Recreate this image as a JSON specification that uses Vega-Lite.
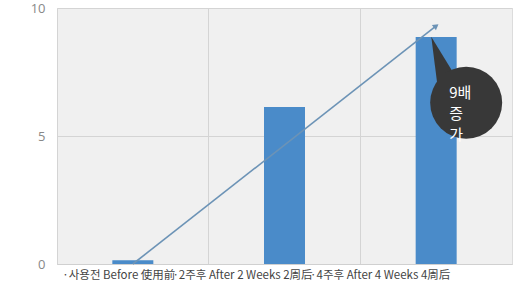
{
  "$schema": "https://vega.github.io/schema/vega-lite/v6.json",
  "autosize": {"type": "none"},
  "width": 455,
  "height": 256,
  "padding": {"left": 57, "top": 8, "right": 2, "bottom": 20},
  "background": "#ffffff",
  "config": {
    "view": {"fill": "#f0f0f0", "stroke": "#dcdcdc", "strokeWidth": 1},
    "font": "Noto Sans CJK KR"
  },
  "datasets": {
    "bars": [
      {"stage": "·사용전 Before 使用前", "value": 0.15},
      {"stage": "·2주후 After 2 Weeks 2周后", "value": 6.13},
      {"stage": "·4주후 After 4 Weeks 4周后", "value": 8.87}
    ],
    "trend": [
      {"stage": "·사용전 Before 使用前", "value": 0},
      {"stage": "·4주후 After 4 Weeks 4周后", "value": 9.3}
    ],
    "head": [
      {"stage": "·4주후 After 4 Weeks 4周后", "value": 9.3}
    ],
    "note": [
      {"stage": "·4주후 After 4 Weeks 4周后", "value": 6.3, "label": "9배\n증\n가"}
    ]
  },
  "encoding": {
    "x": {
      "field": "stage",
      "type": "nominal",
      "sort": null,
      "scale": {
        "domain": ["·사용전 Before 使用前", "·2주후 After 2 Weeks 2周后", "·4주후 After 4 Weeks 4周后"],
        "paddingInner": 0,
        "paddingOuter": 0
      },
      "axis": {
        "title": null,
        "labelAngle": 0,
        "labelFontSize": 11.5,
        "labelColor": "#444444",
        "labelPadding": 5,
        "ticks": false,
        "domain": true,
        "domainColor": "#d0d0d0",
        "grid": true,
        "gridColor": "#d4d4d4",
        "gridWidth": 1,
        "bandPosition": 0,
        "labelOverlap": false,
        "labelOffset": {
          "condition": [
            {"test": "datum.value === '·사용전 Before 使用前'", "value": -14},
            {"test": "datum.value === '·2주후 After 2 Weeks 2周后'", "value": -42}
          ],
          "value": -56
        }
      }
    },
    "y": {
      "field": "value",
      "type": "quantitative",
      "scale": {"domain": [0, 10], "nice": false},
      "axis": {
        "title": null,
        "values": [0, 5, 10],
        "ticks": false,
        "domain": false,
        "labelFontSize": 13,
        "labelColor": "#888888",
        "labelPadding": 12,
        "labelFont": "Open Sans",
        "gridColor": "#d4d4d4",
        "gridWidth": 1
      }
    }
  },
  "layer": [
    {
      "data": {"name": "bars"},
      "mark": {"type": "bar", "width": 41, "color": "#4a8bc9"}
    },
    {
      "data": {"name": "trend"},
      "mark": {"type": "line", "color": "#6c93b6", "strokeWidth": 1.6}
    },
    {
      "data": {"name": "head"},
      "mark": {"type": "point", "shape": "triangle-up", "filled": true, "size": 45, "angle": 52, "color": "#6c93b6", "opacity": 1}
    },
    {
      "data": {"name": "note"},
      "mark": {
        "type": "point",
        "shape": "M -0.97 -1.83 L -0.8 -0.5 L -0.4 -0.9 Z",
        "size": 5184,
        "filled": true,
        "color": "#383838",
        "opacity": 1,
        "xOffset": 30
      }
    },
    {
      "data": {"name": "note"},
      "mark": {
        "type": "point",
        "shape": "circle",
        "size": 5184,
        "filled": true,
        "color": "#383838",
        "opacity": 1,
        "xOffset": 30
      }
    },
    {
      "data": {"name": "note"},
      "mark": {
        "type": "text",
        "align": "left",
        "baseline": "middle",
        "lineBreak": "\n",
        "lineHeight": 21,
        "fontSize": 15,
        "color": "#ffffff",
        "font": "Noto Sans CJK KR",
        "xOffset": 13,
        "yOffset": -10
      },
      "encoding": {"text": {"field": "label"}}
    }
  ]
}
